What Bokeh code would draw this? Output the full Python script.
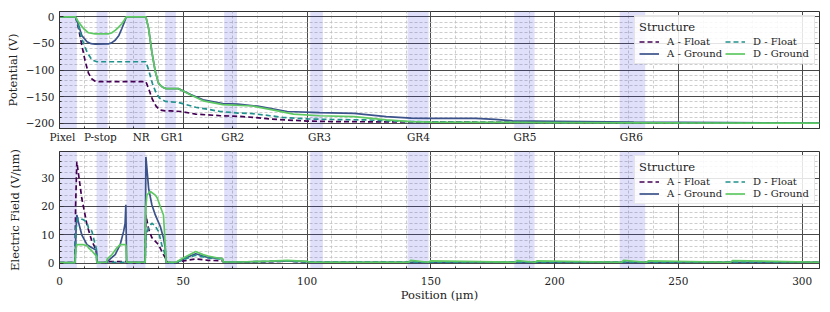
from bokeh.plotting import figure
from bokeh.layouts import column
from bokeh.models import (FixedTicker, BoxAnnotation, Legend, LegendItem, Range1d)
from bokeh.embed import file_html
from bokeh.resources import INLINE

# ---------------- data ----------------
region_names = ["Pixel", "P-stop", "NR", "GR1", "GR2", "GR3", "GR4", "GR5", "GR6"]
region_label_x = [1.2, 16.5, 33, 45.5, 70, 105, 145, 188, 231]
region_start = [0, 15, 27, 42.7, 66.5, 101.3, 140.6, 183.7, 226.3]
region_end = [7, 19.4, 34.7, 47, 71.7, 106.4, 149.1, 191.9, 236.6]

series_names = ["A - Float", "A - Ground", "D - Float", "D - Ground"]
legend_title = "Structure"

# Potential (V)
pot_a_float_x = [0, 6.5, 7.7, 9.0, 10.4, 11.7, 13.1, 14.4, 16, 34.9, 36, 37.5, 39, 40.5, 42.7, 45, 49, 55, 65, 72, 78, 85, 92, 100, 110, 130, 160, 200, 250, 307]
pot_a_float_y = [0, 0, -22, -53, -84, -106, -117, -121, -122, -122, -135, -155, -168, -175, -177, -177, -178, -183, -186, -187, -189, -192, -194, -196, -197, -197.5, -198, -199, -199.5, -200]

pot_a_ground_x = [0, 6.5, 7.7, 9, 11.1, 12.8, 14.4, 19.7, 21, 22.5, 24, 25.2, 26.2, 27, 34.9, 36, 37.3, 38.7, 40, 41.5, 43, 48, 53, 58, 66, 72, 80, 92, 105, 119, 132, 142, 150, 168, 176, 183, 200, 232, 270, 307]
pot_a_ground_y = [0, 0, -16, -35, -47, -50.5, -51.6, -51, -49, -44, -35, -22, -10, 0, 0, -22, -66, -103, -125, -132, -135, -135, -146, -156, -163, -164, -168, -178, -180, -181.5, -187.6, -190.5, -191, -191, -193, -195.5, -196.5, -198, -199, -200]

pot_d_float_x = [0, 6.5, 7.7, 9.0, 11.1, 13.1, 15.1, 34.9, 36, 37.5, 39, 40.5, 42.7, 45, 48, 55, 65, 72, 78, 85, 90, 100, 110, 125, 140, 160, 200, 250, 307]
pot_d_float_y = [0, 0, -18, -41, -66, -81, -84.5, -84.5, -100, -125, -143, -153, -159, -160, -161, -170, -178, -181, -182, -186, -189, -192, -193, -194, -197, -198, -199, -199.5, -200]

pot_d_ground_x = [0, 6.5, 7.7, 9.7, 11.7, 14.4, 19.7, 21, 22.5, 24, 25.2, 26.2, 27, 34.9, 36, 37.3, 38.7, 40, 41.5, 43, 48, 53, 58, 66, 78, 85, 94.5, 105, 119, 132, 142, 150, 200, 250, 307]
pot_d_ground_y = [0, 0, -10, -22, -30, -32, -32, -30.5, -25.5, -19, -13, -6, 0, 0, -22, -66, -103, -125, -132, -135, -135, -147, -158, -165, -167.7, -174, -183, -186, -187.6, -193.8, -197, -198, -198.8, -199.5, -200]

# Electric field (V/um)
ef_a_float_x = [0, 6.3, 6.5, 7.0, 9.0, 11.1, 13.1, 14.4, 14.9, 15.1, 19, 20, 26, 27, 27.2, 34.6, 34.9, 36, 37.3, 40, 42, 43.3, 43.6, 47, 50, 55, 60, 66, 66.3, 72, 85, 92, 100, 101.3, 307]
ef_a_float_y = [0.2, 0.2, 20, 35.8, 22.9, 13.5, 7.7, 5.4, 4, 0.2, 0.2, 0.5, 0.5, 0.5, 0.2, 0.2, 17, 12, 9, 6.5, 3, 1, 0.2, 0.2, 0.8, 1.5, 1.0, 0.8, 0.3, 0.3, 0.5, 0.7, 0.4, 0.3, 0.3]

ef_a_ground_x = [0, 6.3, 6.6, 7.0, 7.5, 9.0, 11.1, 13.1, 14.4, 14.9, 15.1, 19, 20.5, 22.5, 24.5, 25.9, 26.5, 26.8, 27.1, 34.6, 34.9, 36, 37.3, 38.7, 40.7, 42, 42.7, 43.1, 47, 50, 55, 60, 65.8, 66.2, 72, 85, 92, 100, 101.5, 307]
ef_a_ground_y = [0.2, 0.2, 10, 17, 15, 10, 6.5, 5.4, 4.8, 4.5, 0.2, 0.3, 1.5, 3, 6.5, 11.2, 14, 20.6, 0.3, 0.3, 37.5, 26.4, 20.6, 17, 13, 8.9, 5.4, 0.2, 0.2, 1.5, 3.3, 2.0, 1.6, 0.4, 0.4, 0.6, 0.8, 0.5, 0.3, 0.3]

ef_d_float_x = [0, 6.3, 6.6, 7.5, 9.7, 11.1, 11.7, 13.1, 14.4, 14.9, 15.1, 19, 27, 27.2, 34.6, 35, 36, 37.3, 38.7, 40, 41.3, 42.7, 43.1, 47, 50, 55, 60, 65.8, 66.2, 72, 92, 100, 307]
ef_d_float_y = [0.2, 0.2, 12, 16, 15.3, 14.4, 12.4, 11.2, 6.5, 5, 0.2, 0.3, 0.3, 0.2, 0.2, 10, 12.5, 14.1, 13, 11.2, 6.5, 3, 0.2, 0.2, 1.2, 2.8, 1.8, 1.4, 0.4, 0.4, 0.7, 0.4, 0.3]

ef_d_ground_x = [0, 6.3, 6.6, 7.0, 9.7, 11.1, 11.7, 13.1, 14.4, 14.9, 15.1, 19, 19.3, 21.2, 23.2, 24.5, 26.8, 27.1, 34.6, 34.9, 35.3, 36.7, 38.7, 39.5, 40.7, 42, 42.7, 43.1, 47, 50, 55, 58, 60, 64, 65.8, 66.2, 72, 85, 92, 100, 101.3, 141, 142, 149, 150, 184, 185, 192, 193, 227, 228, 237, 238, 271, 272, 307]
ef_d_ground_y = [0.2, 0.2, 5, 6.5, 6.5, 6.2, 5.4, 4.3, 3, 2.5, 0.2, 0.3, 1.5, 3, 5.4, 6.5, 6.5, 0.3, 0.3, 20, 24, 25.3, 24, 23, 20, 17, 6.5, 0.3, 0.3, 1.8, 4.1, 3, 2.5, 1.8, 1.6, 0.4, 0.4, 0.7, 1.0, 0.6, 0.3, 0.3, 1.0, 0.3, 0.8, 0.3, 0.9, 0.3, 0.8, 0.3, 1.0, 0.3, 0.8, 0.3, 0.9, 0.3]

pot_x = [pot_a_float_x, pot_a_ground_x, pot_d_float_x, pot_d_ground_x]
pot_y = [pot_a_float_y, pot_a_ground_y, pot_d_float_y, pot_d_ground_y]
ef_x = [ef_a_float_x, ef_a_ground_x, ef_d_float_x, ef_d_ground_x]
ef_y = [ef_a_float_y, ef_a_ground_y, ef_d_float_y, ef_d_ground_y]

# ---------------- style ----------------
COLORS = ["#440154", "#3b528b", "#21918c", "#5ec962"]
DASHES = ["5 3", "solid", "5 3", "solid"]
FONT = "DejaVu Serif"
TICK_FS = "10.5px"
LABEL_FS = "11.5px"
MAJOR_GRID = "#4a4a4a"
MINOR_GRID = "#c0c0c0"
FRAME_W, FRAME_H = 760, 117


def style(p):
    p.background_fill_color = "white"
    p.border_fill_color = "white"
    p.outline_line_color = "#333333"
    p.outline_line_width = 1
    for ax in p.axis:
        ax.axis_line_color = "#333333"
        ax.major_tick_in = 4
        ax.major_tick_out = 0
        ax.minor_tick_in = 2
        ax.minor_tick_out = 0
        ax.major_tick_line_color = "#333333"
        ax.minor_tick_line_color = "#333333"
        ax.major_label_text_font = FONT
        ax.major_label_text_font_size = TICK_FS
        ax.major_label_text_color = "#222222"
        ax.axis_label_text_font = FONT
        ax.axis_label_text_font_size = LABEL_FS
        ax.axis_label_text_font_style = "normal"
        ax.axis_label_text_color = "#222222"
    for g in (p.xgrid[0], p.ygrid[0]):
        g.grid_line_color = MAJOR_GRID
        g.grid_line_width = 1
        g.minor_grid_line_color = MINOR_GRID
        g.minor_grid_line_dash = "3 2"
        g.minor_grid_line_width = 0.8


def add_regions(p):
    for s, e in zip(region_start, region_end):
        p.add_layout(BoxAnnotation(left=s, right=e, fill_color="#3030e0", fill_alpha=0.15,
                                   line_color=None, level="underlay"))


def add_legend(p, renderers):
    items = [LegendItem(label=n, renderers=[r]) for n, r in zip(series_names, renderers)]
    leg = Legend(items=items, location="top_right", ncols=2, title=legend_title)
    leg.title_text_font = FONT
    leg.title_text_font_size = "11.5px"
    leg.title_text_font_style = "normal"
    leg.title_text_color = "#222222"
    leg.label_text_font = FONT
    leg.label_text_font_size = "10px"
    leg.label_text_color = "#222222"
    leg.background_fill_alpha = 0.85
    leg.border_line_color = "#d0d0d0"
    leg.border_line_width = 1
    leg.margin = 4
    leg.padding = 4
    leg.spacing = 1
    leg.glyph_width = 20
    leg.glyph_height = 11
    leg.label_height = 11
    leg.label_width = 57
    leg.label_standoff = 8
    leg.title_standoff = 2
    p.add_layout(leg)


minor10 = list(range(0, 310, 10))

# ---------------- top: potential ----------------
p1 = figure(frame_width=FRAME_W, frame_height=FRAME_H, x_range=Range1d(0, 307), y_range=Range1d(-210, 10),
            output_backend="svg", toolbar_location=None,
            min_border_left=59, min_border_right=3, min_border_top=11, min_border_bottom=17)
p1.xaxis.ticker = FixedTicker(ticks=region_label_x, minor_ticks=minor10)
p1.xaxis.major_label_overrides = {x: n for x, n in zip(region_label_x, region_names)}
p1.xgrid.ticker = FixedTicker(ticks=list(range(0, 310, 50)), minor_ticks=minor10)
p1.yaxis.ticker = FixedTicker(ticks=[0, -50, -100, -150, -200], minor_ticks=list(range(-210, 11, 10)))
p1.yaxis.major_label_overrides = {0: "0", -50: "\u221250", -100: "\u2212100", -150: "\u2212150", -200: "\u2212200"}
p1.yaxis.axis_label = "Potential (V)"
add_regions(p1)
style(p1)
p1.xaxis.major_tick_in = 0
p1.xaxis.major_label_standoff = 2
p1.yaxis.axis_label_standoff = 3
r1 = []
for xs, ys, c, d in zip(pot_x, pot_y, COLORS, DASHES):
    r1.append(p1.line(xs, ys, line_color=c, line_width=1.7, line_dash=d))
add_legend(p1, r1)

# ---------------- bottom: electric field ----------------
p2 = figure(frame_width=FRAME_W, frame_height=FRAME_H, x_range=p1.x_range, y_range=Range1d(-1.9, 39.4),
            output_backend="svg", toolbar_location=None,
            min_border_left=59, min_border_right=3, min_border_top=6, min_border_bottom=8)
p2.xaxis.ticker = FixedTicker(ticks=list(range(0, 310, 50)), minor_ticks=minor10)
p2.yaxis.ticker = FixedTicker(ticks=[0, 10, 20, 30], minor_ticks=list(range(0, 40, 2)))
p2.xaxis.axis_label = "Position (\u03bcm)"
p2.yaxis.axis_label = "Electric Field (V/\u03bcm)"
add_regions(p2)
style(p2)
p2.xaxis.major_label_standoff = 8
p2.xaxis.axis_label_standoff = 0
p2.yaxis.axis_label_standoff = 16
r2 = []
for xs, ys, c, d in zip(ef_x, ef_y, COLORS, DASHES):
    r2.append(p2.line(xs, ys, line_color=c, line_width=1.7, line_dash=d))
add_legend(p2, r2)

layout = column(p1, p2, spacing=0)
open("out.html", "w").write(file_html(layout, INLINE))
